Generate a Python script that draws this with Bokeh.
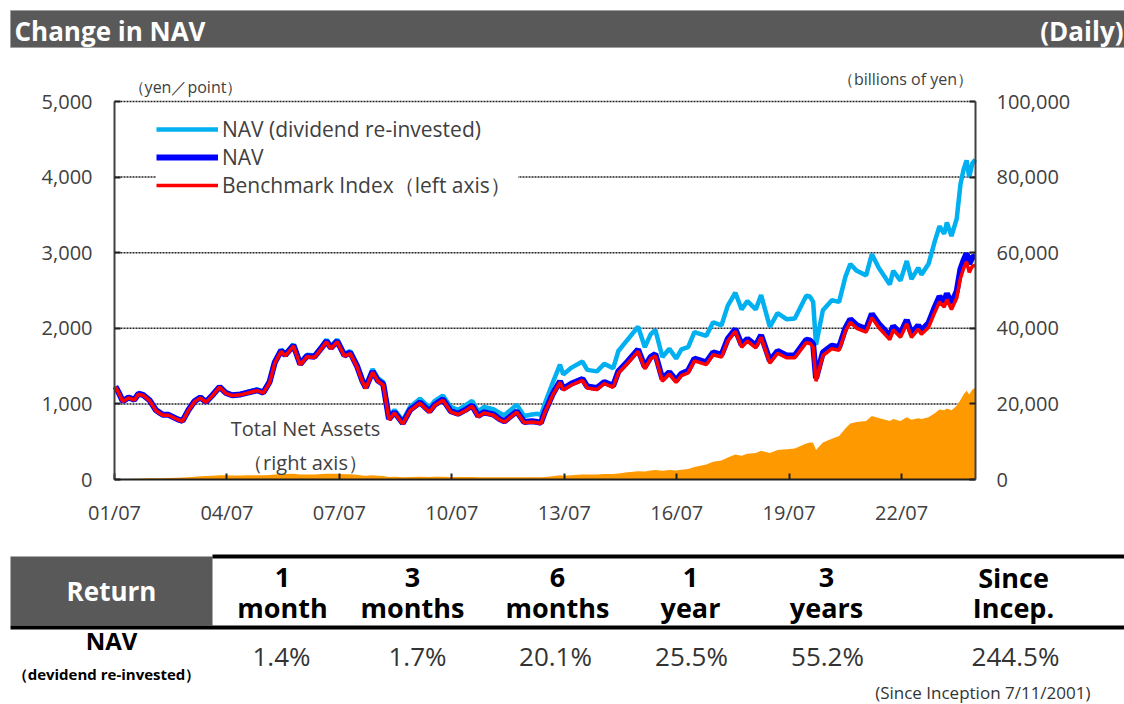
import pandas as pd
from bokeh.plotting import figure
from bokeh.models import (Range1d, LinearAxis, DatetimeAxis, FixedTicker, NumeralTickFormatter,
                          DatetimeTickFormatter, Legend, LegendItem, Label, BoxAnnotation,
                          ColumnDataSource)
from bokeh.embed import file_html
from bokeh.resources import INLINE

FONT = "Open Sans"

# ---------------- data ----------------
dates = ["2001-07-11", "2001-08-20", "2001-09-20", "2001-11-15", "2002-01-10", "2002-02-20",
         "2002-04-10", "2002-06-10", "2002-08-10", "2002-10-15", "2002-12-10", "2003-03-10",
         "2003-04-25", "2003-06-20", "2003-08-20", "2003-10-15", "2003-12-10", "2004-02-10",
         "2004-04-20", "2004-06-20", "2004-08-20", "2004-11-10", "2005-01-20", "2005-04-20",
         "2005-06-20", "2005-08-20", "2005-10-10", "2005-12-10", "2006-01-20", "2006-04-10",
         "2006-06-15", "2006-08-20", "2006-11-01", "2007-01-10", "2007-02-26", "2007-04-10",
         "2007-06-10", "2007-08-20", "2007-10-15", "2007-12-20", "2008-02-10", "2008-03-15",
         "2008-05-20", "2008-07-10", "2008-09-01", "2008-10-27", "2008-12-20", "2009-03-10",
         "2009-05-20", "2009-08-25", "2009-11-25", "2010-01-15", "2010-04-05", "2010-06-20",
         "2010-08-30", "2010-11-10", "2011-01-15", "2011-03-15", "2011-05-10", "2011-08-10",
         "2011-10-10", "2011-11-25", "2012-03-25", "2012-06-05", "2012-08-20", "2012-10-15",
         "2012-11-15", "2012-12-25", "2013-03-10", "2013-05-20", "2013-06-20", "2013-09-10",
         "2013-12-25", "2014-02-10", "2014-05-15", "2014-07-25", "2014-10-20", "2014-12-10",
         "2015-03-10", "2015-06-20", "2015-08-25", "2015-10-20", "2015-12-05", "2016-02-12",
         "2016-04-20", "2016-06-25", "2016-08-15", "2016-10-20", "2016-12-20", "2017-04-15",
         "2017-06-20", "2017-09-10", "2017-11-10", "2018-01-23", "2018-03-25", "2018-05-20",
         "2018-08-10", "2018-10-01", "2018-12-25", "2019-03-10", "2019-06-05", "2019-08-25",
         "2019-12-15", "2020-01-20", "2020-02-20", "2020-03-19", "2020-05-25", "2020-08-20",
         "2020-10-30", "2020-12-30", "2021-02-16", "2021-04-20", "2021-07-20", "2021-09-14",
         "2021-11-20", "2022-03-08", "2022-04-10", "2022-06-20", "2022-08-20", "2022-10-05",
         "2022-12-10", "2023-01-10", "2023-03-20", "2023-05-20", "2023-07-05", "2023-08-20",
         "2023-09-15", "2023-10-30", "2023-12-20", "2024-01-25", "2024-02-25", "2024-03-25",
         "2024-04-20", "2024-05-20", "2024-06-18"]
nav_reinvested = [1235, 1130, 1040, 1090, 1060, 1140, 1120, 1050, 920, 860, 860, 800,
                  780, 920, 1040, 1090, 1030, 1120, 1230, 1150, 1120, 1130, 1160, 1190,
                  1160, 1300, 1560, 1720, 1660, 1790, 1540, 1650, 1640, 1760, 1850, 1760,
                  1850, 1660, 1700, 1520, 1330, 1240, 1460, 1340, 1290, 830, 920, 780,
                  960, 1070, 950, 1040, 1110, 960, 920, 980, 1040, 900, 960, 930,
                  880, 850, 990, 840, 860, 870, 850, 1010, 1280, 1520, 1390, 1480,
                  1560, 1450, 1430, 1530, 1470, 1700, 1850, 2020, 1750, 1920, 1980, 1620,
                  1730, 1600, 1720, 1750, 1950, 1900, 2080, 2040, 2300, 2470, 2250, 2360,
                  2250, 2440, 2020, 2200, 2120, 2130, 2430, 2420, 2350, 1780, 2240, 2370,
                  2350, 2680, 2850, 2760, 2700, 2980, 2800, 2580, 2760, 2630, 2890, 2650,
                  2800, 2710, 2850, 3150, 3350, 3250, 3400, 3220, 3450, 3900, 4100, 4220,
                  4000, 4180, 4230]
nav = [1230, 1125, 1035, 1085, 1055, 1135, 1115, 1045, 915, 855, 855, 795,
       775, 915, 1035, 1085, 1025, 1115, 1225, 1145, 1115, 1125, 1150, 1180,
       1150, 1290, 1550, 1705, 1645, 1775, 1525, 1635, 1625, 1745, 1830, 1740,
       1830, 1640, 1680, 1500, 1305, 1215, 1430, 1310, 1260, 800, 890, 745,
       920, 1020, 900, 990, 1060, 905, 870, 920, 980, 840, 890, 860,
       800, 770, 900, 760, 770, 760, 750, 900, 1130, 1300, 1200, 1270,
       1330, 1230, 1210, 1290, 1240, 1430, 1560, 1720, 1490, 1620, 1660, 1330,
       1420, 1310, 1400, 1440, 1600, 1550, 1680, 1650, 1860, 1990, 1780, 1860,
       1770, 1910, 1570, 1700, 1640, 1640, 1850, 1840, 1790, 1340, 1680, 1770,
       1750, 2000, 2120, 2040, 1990, 2190, 2060, 1900, 2030, 1930, 2110, 1930,
       2040, 1970, 2070, 2280, 2420, 2350, 2460, 2330, 2490, 2780, 2900, 2990,
       2850, 2940, 2950]
benchmark = [1225, 1120, 1030, 1080, 1050, 1130, 1110, 1040, 910, 850, 850, 790,
             770, 910, 1030, 1080, 1020, 1110, 1220, 1140, 1110, 1120, 1145, 1175,
             1145, 1280, 1540, 1695, 1635, 1765, 1515, 1625, 1615, 1735, 1820, 1730,
             1820, 1630, 1665, 1490, 1295, 1205, 1420, 1300, 1250, 790, 880, 735,
             910, 1010, 890, 980, 1050, 895, 860, 910, 970, 830, 880, 850,
             790, 760, 890, 750, 760, 750, 740, 890, 1115, 1285, 1185, 1250,
             1310, 1210, 1190, 1270, 1220, 1410, 1535, 1695, 1465, 1595, 1635, 1300,
             1395, 1285, 1375, 1410, 1570, 1520, 1650, 1620, 1830, 1960, 1750, 1830,
             1740, 1880, 1540, 1670, 1610, 1610, 1810, 1800, 1750, 1300, 1640, 1730,
             1710, 1960, 2080, 2000, 1950, 2140, 2010, 1850, 1980, 1880, 2060, 1880,
             1990, 1920, 2010, 2210, 2350, 2280, 2380, 2250, 2400, 2660, 2790, 2880,
             2740, 2820, 2830]
total_net_assets = [50, 80, 100, 150, 200, 230, 260, 300, 330, 360, 400, 450,
                    500, 600, 750, 850, 900, 1000, 1150, 1100, 1050, 1050, 1100, 1100,
                    1100, 1200, 1350, 1450, 1450, 1550, 1300, 1350, 1350, 1450, 1550, 1500,
                    1550, 1400, 1400, 1250, 1050, 1000, 1100, 1000, 950, 650, 700, 600,
                    650, 700, 650, 700, 720, 650, 630, 650, 680, 600, 620, 600,
                    580, 570, 620, 580, 580, 580, 580, 650, 850, 1100, 1000, 1150,
                    1300, 1300, 1350, 1450, 1450, 1600, 1900, 2200, 2100, 2400, 2500, 2300,
                    2500, 2400, 2600, 2800, 3300, 4000, 4700, 5000, 5800, 6600, 6300, 6800,
                    7000, 7600, 7000, 7800, 8000, 8200, 9500, 9800, 9700, 7800, 9800, 10800,
                    11500, 13500, 14800, 15200, 15500, 16800, 16300, 15500, 16000, 15500, 16500, 15800,
                    16200, 16000, 16500, 17500, 18500, 18300, 18800, 18300, 19500, 21000, 22500, 23500,
                    22500, 23800, 24200]

left_ticks = [0, 1000, 2000, 3000, 4000, 5000]
grid_ticks = [1000, 2000, 3000, 4000, 5000]
right_ticks = [0, 20000, 40000, 60000, 80000, 100000]
x_tick_dates = ["2001-07-01", "2004-07-01", "2007-07-01", "2010-07-01", "2013-07-01",
                "2016-07-01", "2019-07-01", "2022-07-01"]
chart_start, chart_end = "2001-07-01", "2024-06-20"

legend_labels = ["NAV (dividend re-invested)", "NAV", "Benchmark Index（left axis）"]

periods_line1 = ["1", "3", "6", "1", "3", "Since"]
periods_line2 = ["month", "months", "months", "year", "years", "Incep."]
returns = ["1.4%", "1.7%", "20.1%", "25.5%", "55.2%", "244.5%"]

# ---------------- layout geometry (page pixels) ----------------
W, H = 1124, 704
FL, FR, FT, FB = 114, 975, 101, 479   # chart area


def S(y):  # page y (top-down) -> screen y (bottom-up)
    return H - y


t0 = pd.Timestamp(chart_start).value / 1e6
t1 = pd.Timestamp(chart_end).value / 1e6
mpp = (t1 - t0) / (FR - FL)
ypp = left_ticks[-1] / (FB - FT)
y_lo, y_hi = -(H - FB) * ypp, left_ticks[-1] + FT * ypp
k = right_ticks[-1] / left_ticks[-1]

p = figure(width=W, height=H, x_axis_type="datetime",
           x_range=Range1d(t0 - FL * mpp, t1 + (W - FR) * mpp),
           y_range=Range1d(y_lo, y_hi), x_axis_location=None, y_axis_location=None,
           toolbar_location=None, output_backend="svg", min_border=0)
p.outline_line_color = None
p.grid.visible = False
p.extra_y_ranges = {"tna": Range1d(y_lo * k, y_hi * k)}

src = ColumnDataSource(dict(date=pd.to_datetime(dates), nav=nav, bm=benchmark,
                            navr=nav_reinvested, tna=total_net_assets))

# grid lines (between the two axes)
p.segment(x0=[t0] * len(grid_ticks), x1=[t1] * len(grid_ticks), y0=grid_ticks, y1=grid_ticks,
          line_color="#222222", line_dash="2 1", line_width=1.5)

p.varea(x="date", y1=0, y2="tna", source=src, y_range_name="tna", fill_color="#FF9900")
r_navr = p.line("date", "navr", source=src, line_color="#00B0F0", line_width=4.5)
r_nav = p.line("date", "nav", source=src, line_color="#0000FF", line_width=6)
r_bm = p.line("date", "bm", source=src, line_color="#FF0000", line_width=3.5)

TXT = "#404040"

yl = LinearAxis(fixed_location=t0, bounds=(left_ticks[0], left_ticks[-1]),
                ticker=FixedTicker(ticks=left_ticks), formatter=NumeralTickFormatter(format="0,0"))
p.add_layout(yl, "left")
yr = LinearAxis(y_range_name="tna", fixed_location=t1, bounds=(right_ticks[0], right_ticks[-1]),
                ticker=FixedTicker(ticks=right_ticks), formatter=NumeralTickFormatter(format="0,0"))
p.add_layout(yr, "right")
xa = DatetimeAxis(fixed_location=0, bounds=(t0, t1),
                  ticker=FixedTicker(ticks=[pd.Timestamp(d).value / 1e6 for d in x_tick_dates]),
                  formatter=DatetimeTickFormatter(
                      milliseconds="%y/%m", seconds="%y/%m", minsec="%y/%m", minutes="%y/%m",
                      hourmin="%y/%m", hours="%y/%m", days="%y/%m", months="%y/%m",
                      years="%y/%m"))
p.add_layout(xa, "below")

for ax in (yl, yr, xa):
    ax.axis_line_color = "#404040"
    ax.axis_line_width = 2
    ax.major_tick_in = 6
    ax.major_tick_out = 0
    ax.major_tick_line_color = "#202020"
    ax.major_tick_line_width = 2
    ax.minor_tick_line_color = None
    ax.major_label_text_font = FONT
    ax.major_label_text_font_size = "20px"
    ax.major_label_text_color = TXT
xa.axis_line_color = "#202020"
yl.major_label_standoff = 22
yr.major_label_standoff = 21
xa.major_label_standoff = 19

legend = Legend(items=[LegendItem(label=legend_labels[0], renderers=[r_navr]),
                       LegendItem(label=legend_labels[1], renderers=[r_nav]),
                       LegendItem(label=legend_labels[2], renderers=[r_bm])],
                location=(156, 504.5), glyph_width=62, glyph_height=28, label_height=28,
                label_width=296, label_standoff=4, spacing=0, padding=8, margin=0,
                border_line_color=None, background_fill_color="white", background_fill_alpha=1,
                label_text_font=FONT, label_text_font_size="21px", label_text_color=TXT)
p.add_layout(legend, "center")

for txt, px, py, size in [("（yen／point）", 185, 86, "16px"),
                          ("（billions of yen）", 905, 78, "16px"),
                          ("Total Net Assets", 305, 428, "20px"),
                          ("（right axis）", 305, 462, "20px")]:
    p.add_layout(Label(x=px, y=S(py), x_units="screen", y_units="screen", text=txt,
                       text_font=FONT, text_font_size=size, text_color=TXT,
                       text_align="center", text_baseline="middle"))


# ---------------- header bar & table (screen units) ----------------
def box(l, r, t, b, color, line=None):
    p.add_layout(BoxAnnotation(left=l, right=r, top=S(t), bottom=S(b),
                               left_units="screen", right_units="screen",
                               top_units="screen", bottom_units="screen",
                               fill_color=color, fill_alpha=1,
                               line_color=line, line_alpha=1, line_width=1, line_dash="solid"))


def text(s, px, py, size, color, bold=False, align="center"):
    p.add_layout(Label(x=px, y=S(py), x_units="screen", y_units="screen", text=s,
                       text_font=FONT, text_font_size=size, text_color=color,
                       text_font_style="bold" if bold else "normal",
                       text_align=align, text_baseline="middle"))


box(10, W, 10, 47, "#595959", "#a0a0a0")
text("Change in NAV", 14, 30, "26px", "white", bold=True, align="left")
text("(Daily)", W - 1, 30, "26px", "white", bold=True, align="right")

box(10, 212, 556, 625, "#595959")
box(212, W, 554, 558, "black")
box(10, W, 625, 629, "black")

text("Return", 111, 590, "26px", "white", bold=True)
text("NAV", 111, 640, "24px", "black", bold=True)
text("（devidend re-invested）", 106, 673, "15px", "black", bold=True)

head_x = [282, 412, 557, 690, 826, 1013]
val_x = [281, 417, 555, 691, 827, 1015]
for i in range(6):
    text(periods_line1[i], head_x[i], 577, "27px", "black", bold=True)
    text(periods_line2[i], head_x[i], 607, "27px", "black", bold=True)
    text(returns[i], val_x[i], 655, "26px", "#333333")
text("(Since Inception 7/11/2001)", 1090, 692, "17px", "#333333", align="right")

open("out.html", "w").write(file_html(p, INLINE))
